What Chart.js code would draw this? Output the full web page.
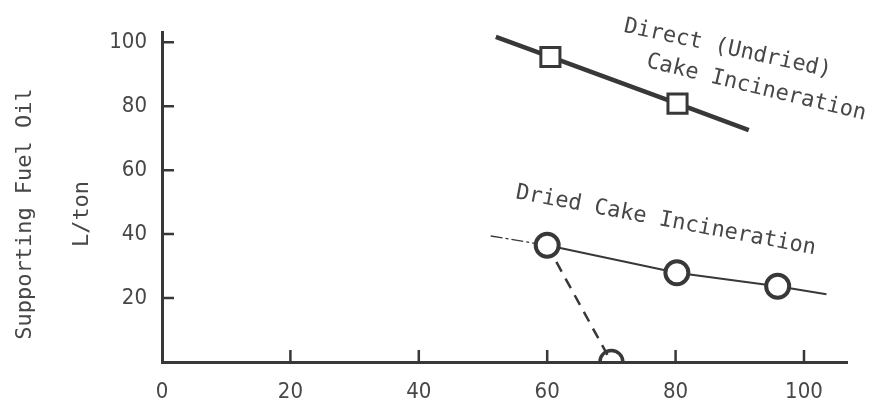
<!DOCTYPE html>
<html>
<head>
<meta charset="utf-8">
<script src="https://cdn.jsdelivr.net/npm/chart.js@4"></script>
<style>
html,body{margin:0;padding:0;background:#fff;}
canvas{display:block;}
</style>
</head>
<body>
<canvas id="c" width="875" height="412"></canvas>
<script>
// ---- data ----
const xTickValues = [0, 20, 40, 60, 80, 100];
const yTickValues = [20, 40, 60, 80, 100];
const yTickLabels = ["20", "40", "60", "80", "100"];

const directX = [52, 60.5, 80.3, 91.4];
const directY = [101.7, 95.4, 80.8, 72.5];

const driedX = [51.2, 60, 80.2, 95.9, 103.5];
const driedY = [39.4, 36.5, 27.9, 23.7, 21.2];

const dashedX = [60, 70];
const dashedY = [36.5, 0];

const yTitleLines = ["Supporting Fuel Oil", "L/ton"];
const labelDirect1 = "Direct (Undried)";
const labelDirect2 = "Cake Incineration";
const labelDried = "Dried Cake Incineration";

// ---- build ----
const toPts = (xs, ys) => xs.map((x, i) => ({x, y: ys[i]}));
const INK = '#383838';
const TXT = '#474747';
const tickFont = {family: '"DejaVu Sans Condensed", "DejaVu Sans", sans-serif', size: 22};
const monoFont = '22px "DejaVu Sans Mono", monospace';

const innerTicks = {
  id: 'innerTicks',
  afterDatasetsDraw(chart) {
    const {ctx, scales: {x, y}, chartArea: a} = chart;
    ctx.save();
    ctx.strokeStyle = INK;
    ctx.lineWidth = 2.5;
    ctx.beginPath();
    yTickValues.forEach(v => { const py = y.getPixelForValue(v); ctx.moveTo(a.left, py); ctx.lineTo(a.left + 12, py); });
    xTickValues.filter(v => v > 0).forEach(v => { const px = x.getPixelForValue(v); ctx.moveTo(px, a.bottom); ctx.lineTo(px, a.bottom - 12); });
    ctx.stroke();
    ctx.restore();
  }
};

const textLabels = {
  id: 'textLabels',
  afterDraw(chart) {
    const {ctx, scales: {x, y}} = chart;
    ctx.save();
    ctx.fillStyle = TXT;
    ctx.font = monoFont;
    ctx.textAlign = 'left';
    ctx.textBaseline = 'alphabetic';
    const put = (txt, dx, dy, deg) => {
      ctx.save();
      ctx.translate(x.getPixelForValue(dx), y.getPixelForValue(dy));
      ctx.rotate(deg * Math.PI / 180);
      ctx.fillText(txt, 0, 0);
      ctx.restore();
    };
    put(labelDirect1, 71.8, 103.3, 12.3);
    put(labelDirect2, 75.3, 92.3, 13.6);
    put(labelDried, 55.0, 51.2, 10.6);
    // y-axis title
    ctx.textAlign = 'center';
    ctx.textBaseline = 'middle';
    const cy = 214;
    [[yTitleLines[0], 25], [yTitleLines[1], 82]].forEach(([t, px]) => {
      ctx.save();
      ctx.translate(px, cy);
      ctx.rotate(-Math.PI / 2);
      ctx.fillText(t, 0, 0);
      ctx.restore();
    });
    ctx.restore();
  }
};

const endless = (ctx, r) => (ctx.dataIndex === 0 || ctx.dataIndex === ctx.dataset.data.length - 1) ? 0 : r;

new Chart(document.getElementById('c'), {
  type: 'line',
  data: {
    datasets: [
      {
        label: 'Direct (Undried) Cake Incineration',
        data: toPts(directX, directY),
        borderColor: INK,
        borderWidth: 4.5,
        pointStyle: 'rect',
        pointRadius: c => endless(c, 13.5),
        pointBorderWidth: 3,
        pointBackgroundColor: '#fff',
        pointBorderColor: INK,
        tension: 0,
      },
      {
        label: 'Dried Cake Incineration',
        data: toPts(driedX, driedY),
        borderColor: INK,
        borderWidth: 2,
        segment: {
          borderDash: c => c.p0DataIndex === 0 ? [12, 3, 3, 3] : undefined,
          borderWidth: c => c.p0DataIndex === 0 ? 1.3 : 2,
        },
        pointStyle: 'circle',
        pointRadius: c => endless(c, 11.5),
        pointBorderWidth: 4,
        pointBackgroundColor: '#fff',
        pointBorderColor: INK,
        tension: 0,
      },
      {
        label: 'Dried (dashed)',
        data: toPts(dashedX, dashedY),
        borderColor: INK,
        borderWidth: 2.5,
        borderDash: [11, 8],
        pointStyle: 'circle',
        pointRadius: c => c.dataIndex === 1 ? 11.5 : 0,
        pointBorderWidth: 3.5,
        pointBackgroundColor: 'rgba(255,255,255,0)',
        pointBorderColor: INK,
        clip: 0,
        tension: 0,
      }
    ]
  },
  options: {
    responsive: false,
    animation: false,
    events: [],
    layout: {padding: {top: 32, right: 28, left: 0, bottom: 0}},
    plugins: {legend: {display: false}, tooltip: {enabled: false}},
    scales: {
      x: {
        type: 'linear',
        min: 0,
        max: 106.7,
        afterBuildTicks: s => { s.ticks = xTickValues.map(v => ({value: v})); },
        afterFit: s => { s.height = 50; },
        grid: {display: true, drawOnChartArea: false, drawTicks: false},
        border: {display: true, color: INK, width: 3},
        ticks: {color: TXT, font: tickFont, padding: 17, maxRotation: 0, autoSkip: false,
                callback: v => String(v)}
      },
      y: {
        type: 'linear',
        min: 0,
        max: 103.2,
        afterBuildTicks: s => { s.ticks = yTickValues.map(v => ({value: v})); },
        afterFit: s => { s.width = 162; },
        grid: {display: true, drawOnChartArea: false, drawTicks: false},
        border: {display: true, color: INK, width: 3},
        ticks: {color: TXT, font: tickFont, padding: 15, autoSkip: false,
                callback: v => yTickLabels[yTickValues.indexOf(v)]}
      }
    }
  },
  plugins: [innerTicks, textLabels]
});
</script>
</body>
</html>
